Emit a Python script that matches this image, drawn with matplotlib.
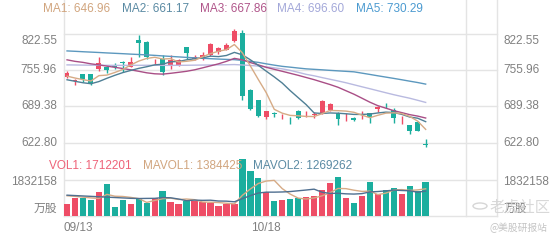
import numpy as np
import matplotlib
matplotlib.use('Agg')
import matplotlib.pyplot as plt
import matplotlib.transforms as mtransforms
from matplotlib.lines import Line2D
from matplotlib.patches import Circle

plt.rcParams['font.family'] = ['Liberation Sans', 'Noto Sans CJK SC', 'DejaVu Sans']

# ---- 数据 ----
opens = [743.2, 736.4, 748.0, 748.0, 759.0, 761.5, 765.2, 771.2, 762.6, 811.6,
         807.9, 770.7, 777.3, 763.9, 765.2, 798.2, 777.3, 779.9, 784.6, 789.6,
         793.2, 809.2, 823.8, 719.6, 701.0, 669.2, 677.0, 671.2, 665.0, 680.2,
         673.0, 673.2, 676.9, 682.4, 677.8, 669.0, 667.3, 671.4, 676.9, 683.6,
         690.8, 682.9, 664.0, 654.3, 660.9, 620.0]
closes = [751.6, 737.7, 740.6, 729.6, 770.0, 756.6, 761.5, 768.9, 771.2, 805.5,
          781.0, 771.8, 752.9, 774.9, 774.9, 787.2, 781.0, 784.6, 804.2, 796.9,
          801.8, 828.6, 708.0, 684.2, 671.4, 680.0, 675.9, 672.3, 663.8, 668.1,
          674.1, 674.5, 698.8, 693.4, 666.2, 670.1, 663.7, 672.5, 669.9, 688.4,
          689.7, 667.1, 665.1, 643.9, 644.8, 618.9]
highs = [753.8, 740.6, 749.2, 749.2, 781.0, 763.0, 768.9, 773.6, 779.9, 821.3,
         808.8, 777.3, 783.5, 783.5, 776.2, 798.7, 784.6, 789.6, 806.6, 799.3,
         805.5, 832.3, 830.8, 720.8, 701.5, 681.4, 679.1, 675.4, 670.4, 682.7,
         681.4, 678.7, 701.6, 695.2, 678.7, 677.2, 669.9, 680.9, 677.8, 690.6,
         695.6, 685.7, 671.0, 654.9, 662.2, 629.6]
lows = [741.0, 728.6, 734.6, 728.2, 755.3, 750.5, 759.0, 752.9, 761.5, 781.0,
        777.3, 765.2, 746.9, 759.0, 763.9, 777.3, 774.9, 774.9, 782.2, 785.9,
        792.3, 807.9, 701.0, 683.3, 669.9, 665.3, 670.4, 665.5, 657.0, 666.8,
        670.4, 668.6, 675.9, 681.4, 655.8, 662.6, 663.1, 666.2, 658.6, 678.7,
        685.7, 658.9, 657.6, 639.3, 643.9, 613.6]

ma1 = [745.0, 741.5, 738.5, 736.0, 745.9, 746.9, 751.7, 757.3, 765.6, 772.7,
       777.6, 779.7, 776.5, 777.2, 771.1, 772.3, 774.2, 780.5, 786.4, 790.8,
       793.7, 803.2, 787.9, 763.9, 738.8, 714.4, 683.9, 676.8, 672.7, 672.0,
       670.8, 670.6, 675.9, 681.8, 681.4, 680.6, 678.4, 673.2, 668.5, 672.9,
       676.8, 677.5, 676.0, 670.8, 662.1, 646.96]
ma2 = [738.3, 735.5, 732.8, 731.0, 735.0, 741.0, 746.5, 751.5, 755.5, 759.3,
       762.3, 765.7, 766.9, 771.4, 771.9, 775.0, 776.9, 778.5, 781.8, 780.9,
       783.0, 788.7, 784.2, 775.1, 764.8, 754.1, 743.6, 732.3, 718.3, 705.4,
       692.6, 677.2, 676.3, 677.2, 676.7, 675.7, 674.5, 674.5, 675.1, 677.2,
       678.7, 678.0, 674.6, 669.7, 667.5, 661.17]
ma3 = [775.0, 772.2, 770.3, 767.6, 765.7, 763.4, 761.2, 759.0, 756.6, 753.9,
       751.1, 749.3, 748.7, 750.2, 752.0, 753.9, 756.6, 760.2, 763.9, 767.6,
       772.2, 777.7, 775.0, 770.0, 765.7, 761.2, 757.5, 753.9, 750.2, 746.5,
       742.5, 738.5, 734.0, 729.5, 724.5, 718.1, 711.7, 704.4, 697.0, 690.6,
       686.0, 681.4, 677.8, 674.1, 671.4, 667.86]
ma4 = [765.7, 765.5, 765.3, 765.1, 765.0, 764.9, 764.8, 764.8, 764.8, 764.9,
       765.0, 765.0, 764.8, 764.8, 764.9, 765.0, 765.2, 765.4, 765.6, 765.8,
       766.0, 766.3, 765.5, 764.6, 763.5, 762.1, 760.2, 758.4, 755.6, 752.0,
       748.3, 745.6, 742.3, 739.2, 736.1, 732.8, 729.1, 725.4, 721.8, 718.1,
       714.4, 710.8, 707.5, 704.3, 700.5, 696.60]
ma5 = [791.4, 790.7, 789.9, 789.2, 788.5, 787.7, 787.0, 786.3, 785.5, 784.8,
       784.1, 783.2, 782.2, 781.3, 780.4, 779.5, 778.6, 777.8, 777.1, 776.4,
       775.8, 775.3, 774.0, 772.2, 770.3, 767.6, 765.2, 763.0, 761.5, 759.9,
       758.4, 757.5, 756.6, 755.6, 754.7, 753.8, 752.9, 750.5, 748.1, 745.6,
       743.2, 740.8, 738.3, 735.7, 733.2, 730.29]

volumes = [595000, 901000, 901000, 830000, 1237000, 1629000, 443000, 830000, 595000, 931000,
           662000, 931000, 1288000, 728000, 595000, 779000, 763000, 697000, 662000, 524000,
           595000, 595000, 2886000, 2265000, 1934000, 1221000, 763000, 789000, 865000, 916000,
           982000, 1043000, 1323000, 1664000, 2000000, 931000, 646000, 1018000, 1730000, 1120000,
           1308000, 1440000, 1120000, 1527000, 1247000, 1712201]
mavol1 = [1030000, 1000000, 960000, 920000, 893000, 1100000, 1008000, 994000, 947000, 886000,
          692000, 790000, 881000, 908000, 841000, 864000, 831000, 712000, 699000, 685000,
          648000, 615000, 1052000, 1373000, 1655000, 1780000, 1814000, 1394000, 1114000, 911000,
          863000, 919000, 1026000, 1186000, 1402000, 1392000, 1313000, 1252000, 1265000, 1089000,
          1164000, 1323000, 1344000, 1303000, 1328000, 1384425]
mavol2 = [1060000, 1040000, 1020000, 1000000, 980000, 960000, 940000, 920000, 900000, 889000,
          896000, 899000, 938000, 927000, 863000, 778000, 810000, 797000, 804000, 763000,
          756000, 723000, 882000, 1036000, 1170000, 1214000, 1214000, 1223000, 1244000, 1283000,
          1322000, 1366000, 1210000, 1150000, 1157000, 1128000, 1116000, 1139000, 1225000, 1246000,
          1278000, 1318000, 1298000, 1284000, 1209000, 1269262]

price_ticks = [622.80, 689.38, 755.96, 822.55]
vol_tick = 1832158
date_labels = [(0, '09/13'), (25, '10/18')]
grid_idx = [25, 50]

ma_names = ['MA1', 'MA2', 'MA3', 'MA4', 'MA5']
ma_text_colors = ['#d1a57e', '#5a8aa3', '#b0558a', '#a3a8d9', '#4b9ad0']
ma_line_colors = ['#d6ab86', '#4f7f95', '#a94e86', '#b9bae0', '#5c98be']

RED = '#ee4d66'
GREEN = '#1bae9e'
GRID = '#e4e4e4'
LABEL = '#808080'

W, H = 560, 240


def fx(px):
    return px / W


def fy(py):
    return 1 - py / H


fig = plt.figure(figsize=(5.6, 2.4), dpi=100)
fig.patch.set_facecolor('white')

ax = fig.add_axes([fx(64), fy(142.5), fx(497) - fx(64), fy(34) - fy(142.5)])
axv = fig.add_axes([fx(64), fy(216), fx(497) - fx(64), fy(144) - fy(216)])

xlim = (-0.38, 53.95)
for a in (ax, axv):
    a.set_xlim(*xlim)
    a.axis('off')
ax.set_ylim(price_ticks[0], price_ticks[-1])
axv.set_ylim(0, 2 * vol_tick)

x = np.arange(len(closes))
up = np.array(closes) >= np.array(opens)
colors = [RED if u else GREEN for u in up]

# 网格线
for t in price_ticks:
    ax.axhline(t, color=GRID, lw=1, zorder=0, clip_on=False)
axv.axhline(vol_tick, color=GRID, lw=1, zorder=0)
axv.axhline(0, color=GRID, lw=1, zorder=0, clip_on=False)

trans_v = mtransforms.blended_transform_factory(ax.transData, fig.transFigure)
for xi in [xlim[0]] + grid_idx + [xlim[1]]:
    fig.add_artist(Line2D([xi, xi], [fy(216), 1.0], transform=trans_v,
                          color=GRID, lw=1, zorder=0))

# K线
body_bottom = np.minimum(opens, closes)
body_h = np.maximum(np.abs(np.array(closes) - np.array(opens)), 0.9)
ax.vlines(x, lows, highs, colors=colors, lw=1, zorder=3, clip_on=False)
ax.bar(x, body_h, bottom=body_bottom, width=0.62, color=colors,
       zorder=4, clip_on=False)

# 均线
for vals, c in zip([ma5, ma4, ma3, ma2, ma1], ma_line_colors[::-1]):
    ax.plot(x, vals, color=c, lw=1, zorder=5, clip_on=False)

# 成交量
axv.bar(x, volumes, width=0.8, color=colors, zorder=2)
axv.plot(x, mavol1, color='#d6ab86', lw=1, zorder=3)
axv.plot(x, mavol2, color='#4f6f90', lw=1, zorder=3)

# 图例文字
fs = 8.5
legend_x = [43, 122, 200, 277, 356]
for px, name, vals, c in zip(legend_x, ma_names, [ma1, ma2, ma3, ma4, ma5], ma_text_colors):
    fig.text(fx(px), fy(9), f'{name}: {vals[-1]:.2f}', color=c, fontsize=fs,
             va='center', ha='left')

fig.text(fx(49), fy(166), f'VOL1: {volumes[-1]}', color='#ee6278', fontsize=fs, va='center')
fig.text(fx(143), fy(166), f'MAVOL1: {mavol1[-1]}', color='#d1a57e', fontsize=fs, va='center')
fig.text(fx(253), fy(166), f'MAVOL2: {mavol2[-1]}', color='#5a8aa3', fontsize=fs, va='center')

# 坐标标签
for t in price_ticks:
    va = 'top' if t == price_ticks[-1] else 'center'
    for side, ha, off in [(0, 'right', -5), (1, 'left', 4.5)]:
        ax.annotate(f'{t:.2f}', xy=(side, t), xycoords=('axes fraction', 'data'),
                    xytext=(off, 0 if va == 'center' else -1), textcoords='offset points',
                    ha=ha, va=va, fontsize=fs, color=LABEL, annotation_clip=False)
for side, ha, off in [(0, 'right', -5), (1, 'left', 4.5)]:
    axv.annotate(str(vol_tick), xy=(side, vol_tick), xycoords=('axes fraction', 'data'),
                 xytext=(off, -1.5), textcoords='offset points',
                 ha=ha, va='center', fontsize=fs, color=LABEL, annotation_clip=False)
    axv.annotate('万股', xy=(side, 0), xycoords=('axes fraction', 'data'),
                 xytext=(off, 1), textcoords='offset points',
                 ha=ha, va='bottom', fontsize=fs, color=LABEL, annotation_clip=False)

for i, lab in date_labels:
    ha = 'left' if i == 0 else 'center'
    xpos = xlim[0] if i == 0 else i
    axv.annotate(lab, xy=(xpos, 0), xycoords=('data', 'axes fraction'),
                 xytext=(0, -8.5), textcoords='offset points',
                 ha=ha, va='center', fontsize=fs, color=LABEL, annotation_clip=False)

# 水印
fig.add_artist(Circle((fx(480), fy(206)), 0.0125, transform=fig.transFigure,
                      fill=False, ec='#d6d6d6', lw=1))
fig.text(fx(490), fy(207), '老虎社区', fontsize=11, color='#d4d4d4', va='center',
         family=['Noto Sans CJK SC'], alpha=0.9)
fig.text(fx(490), fy(228), '@美股研报站', fontsize=7, color='#c4c4c4', va='center',
         family=['Noto Sans CJK SC', 'DejaVu Sans'])

fig.savefig('out.png', dpi=100, facecolor='white')
